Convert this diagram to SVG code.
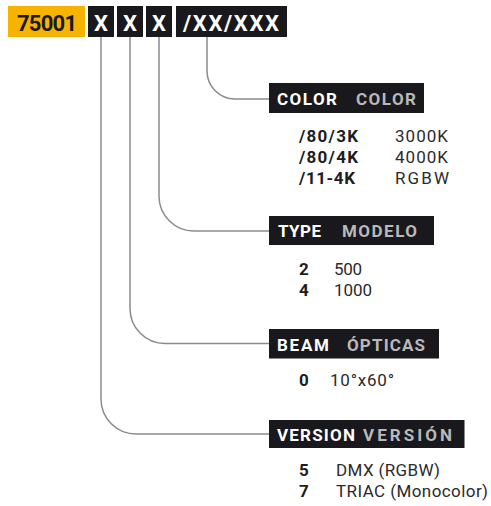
<svg xmlns="http://www.w3.org/2000/svg" width="491" height="506" viewBox="0 0 491 506">
<style>
.bg{fill:#ffffff}
.yel{fill:#f6b400}
.blk{fill:#19181d}
.hd{font-family:Roboto,"Liberation Sans",sans-serif;font-weight:700;font-size:22px}
.hdw{fill:#ffffff}
.hdk{fill:#1b1a1f}
.lb{font-family:Roboto,"Liberation Sans",sans-serif;font-weight:700;font-size:17px}
.lw{fill:#ffffff}
.lg{fill:#b9b9b9}
.kb{font-family:Roboto,"Liberation Sans",sans-serif;font-weight:700;font-size:17px;fill:#1d1d1f}
.kv{font-family:Roboto,"Liberation Sans",sans-serif;font-weight:400;font-size:17px;fill:#2a2a2c}
.con{fill:none;stroke:#8c8c8c;stroke-width:1.5}
</style>
<rect class="bg" x="0" y="0" width="491" height="506"/>
<g id="code">
  <rect class="yel" x="8" y="6" width="77" height="31"/>
  <text class="hd hdk" x="17" y="31" textLength="60">75001</text>
  <rect class="blk" x="88" y="6" width="26" height="31"/>
  <text class="hd hdw" x="101" y="31" text-anchor="middle">X</text>
  <rect class="blk" x="117" y="6" width="26" height="31"/>
  <text class="hd hdw" x="130" y="31" text-anchor="middle">X</text>
  <rect class="blk" x="146" y="6" width="26" height="31"/>
  <text class="hd hdw" x="159" y="31" text-anchor="middle">X</text>
  <rect class="blk" x="176" y="6" width="111" height="31"/>
  <text class="hd hdw" x="183" y="31" textLength="96">/XX/XXX</text>
</g>
<g id="connectors">
  <path class="con" d="M207,37 V71 A28,28 0 0 0 235,99 H269"/>
  <path class="con" d="M159,37 V196 A35,35 0 0 0 194,231 H269"/>
  <path class="con" d="M130,37 V308.5 A35,35 0 0 0 165,343.5 H269"/>
  <path class="con" d="M101,37 V399 A35,35 0 0 0 136,434 H269"/>
</g>
<g id="color">
  <rect class="blk" x="269" y="83" width="155" height="30"/>
  <text class="lb lw" x="277" y="104.5" textLength="60">COLOR</text>
  <text class="lb lg" x="356" y="104.5" textLength="60">COLOR</text>
  <text class="kb" x="299" y="142" textLength="59">/80/3K</text>
  <text class="kv" x="395" y="142" textLength="53">3000K</text>
  <text class="kb" x="299" y="163" textLength="59">/80/4K</text>
  <text class="kv" x="395" y="163" textLength="53">4000K</text>
  <text class="kb" x="299" y="184" textLength="56">/11-4K</text>
  <text class="kv" x="395" y="184" textLength="54">RGBW</text>
</g>
<g id="type">
  <rect class="blk" x="269" y="216" width="165" height="29"/>
  <text class="lb lw" x="278" y="237" textLength="43">TYPE</text>
  <text class="lb lg" x="342" y="237" textLength="75">MODELO</text>
  <text class="kb" x="299" y="275">2</text>
  <text class="kv" x="334" y="275" textLength="28">500</text>
  <text class="kb" x="299" y="296">4</text>
  <text class="kv" x="334" y="296" textLength="38">1000</text>
</g>
<g id="beam">
  <rect class="blk" x="269" y="329" width="170" height="29.5"/>
  <text class="lb lw" x="277" y="350.5" textLength="52">BEAM</text>
  <text class="lb lg" x="347" y="350.5" textLength="78">ÓPTICAS</text>
  <text class="kb" x="299" y="386">0</text>
  <text class="kv" x="330" y="386" textLength="64">10°x60°</text>
</g>
<g id="version">
  <rect class="blk" x="269" y="420" width="195.5" height="28"/>
  <text class="lb lw" x="277" y="441" textLength="78">VERSION</text>
  <text class="lb lg" x="363" y="441" textLength="89">VERSIÓN</text>
  <text class="kb" x="299" y="476">5</text>
  <text class="kv" x="336" y="476" textLength="104">DMX (RGBW)</text>
  <text class="kb" x="299" y="497">7</text>
  <text class="kv" x="336" y="497" textLength="152">TRIAC (Monocolor)</text>
</g>
</svg>
